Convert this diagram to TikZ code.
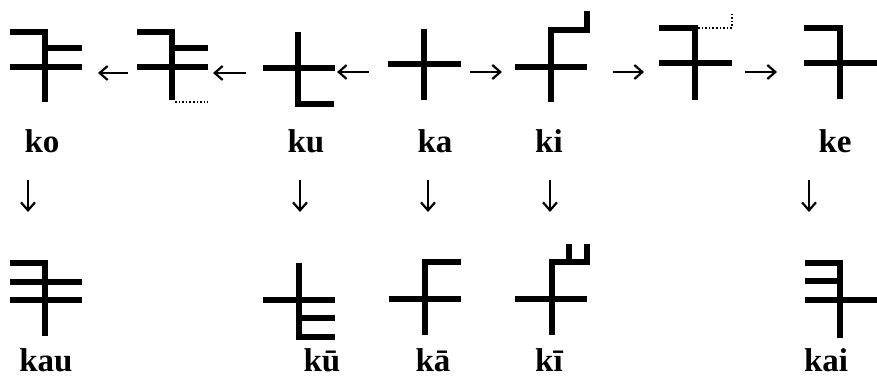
\documentclass[tikz,border=0pt]{standalone}
\usepackage{fontspec}
\setmainfont{Liberation Serif}
\usetikzlibrary{arrows.meta}
\begin{document}
\begin{tikzpicture}[x=1pt,y=-1pt,
  stroke/.style={line width=6pt,line join=miter,line cap=butt},
  ghost/.style={line width=1.6pt,dotted},
  conn/.style={line width=2.2pt,-{Straight Barb[length=8pt,width=14pt,line width=2.2pt]}},
  lab/.style={anchor=base,inner sep=0pt,font=\fontsize{33}{36}\selectfont\bfseries}]
\useasboundingbox[fill=white] (0,0) rectangle (877,379);
% ---- top row glyphs ----
% ko
\draw[stroke] (10,32)--(45,32)--(45,102) (45,48)--(82,48) (10,67)--(82,67);
% intermediate (ko <- ku)
\draw[stroke] (137,32)--(172,32)--(172,100) (172,48)--(208,48) (137,67)--(208,67);
\draw[ghost] (175,102)--(208,102);
% ku
\draw[stroke] (263,68)--(335,68) (298,32)--(298,104)--(334,104);
% ka
\draw[stroke] (388,64)--(461,64) (424,29)--(424,100);
% ki
\draw[stroke] (515,67)--(587,67) (551,102)--(551,30)--(587,30)--(587,11);
% intermediate (ki -> ke)
\draw[stroke] (659,28)--(695,28)--(695,100) (659,63)--(732,63);
\draw[ghost] (698,28)--(732,28)--(732,12);
% ke
\draw[stroke] (804,28)--(840,28)--(840,99) (804,63)--(877,63);
% ---- horizontal arrows ----
\coordinate (a1s) at (128,73); \coordinate (a1e) at (98,73);
\coordinate (a2s) at (246,73); \coordinate (a2e) at (213,73);
\coordinate (a3s) at (369,72); \coordinate (a3e) at (337,72);
\coordinate (a4s) at (470,72); \coordinate (a4e) at (502,72);
\coordinate (a5s) at (613,72); \coordinate (a5e) at (644,72);
\coordinate (a6s) at (745,72); \coordinate (a6e) at (777,72);
\foreach \i in {1,...,6} {\draw[conn] (a\i s) -- (a\i e);}
% ---- top labels ----
\node[lab] (lko) at (42,153) {ko};
\node[lab] (lku) at (306,153) {ku};
\node[lab] (lka) at (435,153) {ka};
\node[lab] (lki) at (549,153) {ki};
\node[lab] (lke) at (835,153) {ke};
% ---- down arrows ----
\coordinate (d1s) at (28,180); \coordinate (d1e) at (28,212);
\coordinate (d2s) at (300,180); \coordinate (d2e) at (300,212);
\coordinate (d3s) at (428,180); \coordinate (d3e) at (428,212);
\coordinate (d4s) at (550,180); \coordinate (d4e) at (550,212);
\coordinate (d5s) at (809,180); \coordinate (d5e) at (809,212);
\foreach \i in {1,...,5} {\draw[conn] (d\i s) -- (d\i e);}
% ---- bottom row glyphs ----
% kau
\draw[stroke] (10,263)--(45,263)--(45,336) (10,282)--(82,282) (10,300)--(82,300);
% ku long
\draw[stroke] (263,300)--(335,300) (299,263)--(299,337)--(335,337) (299,318)--(335,318);
% ka long
\draw[stroke] (389,299)--(461,299) (425,335)--(425,262)--(461,262);
% ki long
\draw[stroke] (515,299)--(587,299) (552,335)--(552,262)--(587,262)--(587,244) (569,262)--(569,244);
% kai
\draw[stroke] (805,263)--(840,263)--(840,338) (805,281)--(840,281) (805,300)--(877,300);
% ---- bottom labels ----
\node[lab] (lkau) at (46,371) {kau};
\node[lab] (lkuu) at (322,371) {kū};
\node[lab] (lkaa) at (433,371) {kā};
\node[lab] (lkii) at (549,371) {kī};
\node[lab] (lkai) at (826,371) {kai};
\end{tikzpicture}
\end{document}
